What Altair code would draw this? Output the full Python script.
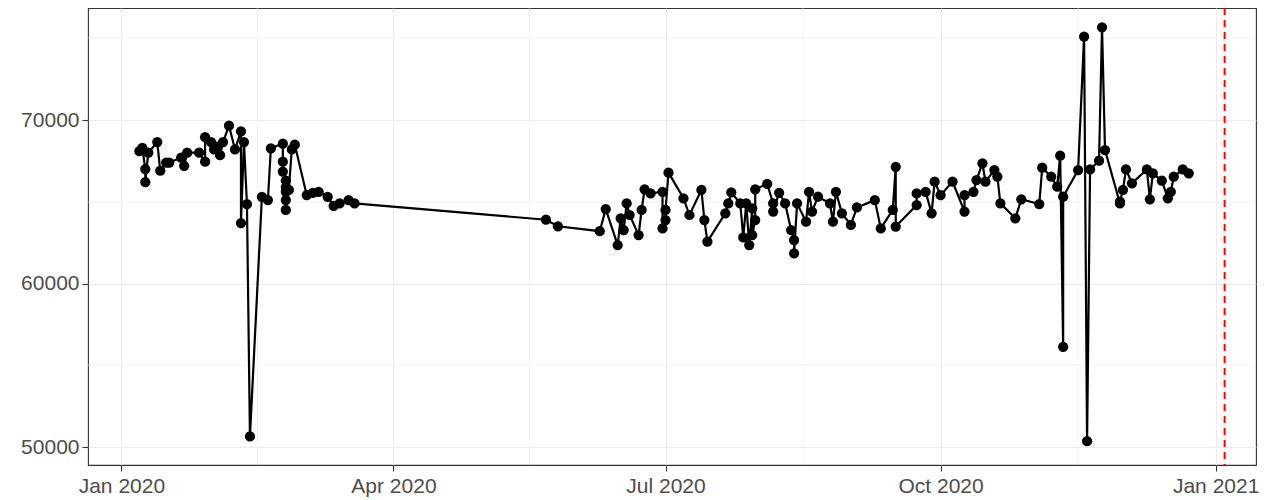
import altair as alt
import pandas as pd

dates = [
    "2020-01-07", "2020-01-08", "2020-01-09", "2020-01-09", "2020-01-10",
    "2020-01-13", "2020-01-14", "2020-01-16", "2020-01-17", "2020-01-21",
    "2020-01-22", "2020-01-23", "2020-01-27", "2020-01-29", "2020-01-29",
    "2020-01-31", "2020-02-01", "2020-02-02", "2020-02-03", "2020-02-04",
    "2020-02-06", "2020-02-08", "2020-02-10", "2020-02-10", "2020-02-11",
    "2020-02-12", "2020-02-13", "2020-02-17", "2020-02-19", "2020-02-20",
    "2020-02-24", "2020-02-24", "2020-02-24", "2020-02-25", "2020-02-25",
    "2020-02-25", "2020-02-25", "2020-02-25", "2020-02-26", "2020-02-27",
    "2020-02-28", "2020-03-03", "2020-03-05", "2020-03-07", "2020-03-10",
    "2020-03-12", "2020-03-14", "2020-03-17", "2020-03-19",
    "2020-05-22", "2020-05-26",
    "2020-06-09", "2020-06-11", "2020-06-15", "2020-06-16", "2020-06-17",
    "2020-06-18", "2020-06-19", "2020-06-22", "2020-06-23", "2020-06-24",
    "2020-06-26", "2020-06-30", "2020-06-30", "2020-07-01", "2020-07-01",
    "2020-07-02", "2020-07-07", "2020-07-09", "2020-07-13", "2020-07-14",
    "2020-07-15", "2020-07-21", "2020-07-22", "2020-07-23", "2020-07-26",
    "2020-07-27", "2020-07-28", "2020-07-29", "2020-07-30", "2020-07-30",
    "2020-07-31", "2020-07-31", "2020-08-04", "2020-08-06", "2020-08-06",
    "2020-08-08", "2020-08-10", "2020-08-12", "2020-08-13", "2020-08-13",
    "2020-08-14", "2020-08-17", "2020-08-18", "2020-08-19", "2020-08-21",
    "2020-08-25", "2020-08-26", "2020-08-27", "2020-08-29", "2020-09-01",
    "2020-09-03", "2020-09-09", "2020-09-11", "2020-09-15", "2020-09-16",
    "2020-09-16", "2020-09-23", "2020-09-23", "2020-09-26", "2020-09-28",
    "2020-09-29", "2020-10-01", "2020-10-05", "2020-10-09", "2020-10-09",
    "2020-10-12", "2020-10-13", "2020-10-15", "2020-10-16", "2020-10-19",
    "2020-10-20", "2020-10-21", "2020-10-26", "2020-10-28", "2020-11-03",
    "2020-11-04", "2020-11-07", "2020-11-09", "2020-11-10", "2020-11-11",
    "2020-11-11", "2020-11-16", "2020-11-18", "2020-11-19", "2020-11-20",
    "2020-11-23", "2020-11-24", "2020-11-25", "2020-11-30", "2020-11-30",
    "2020-12-01", "2020-12-02", "2020-12-04", "2020-12-09", "2020-12-10",
    "2020-12-11", "2020-12-14", "2020-12-16", "2020-12-17", "2020-12-18",
    "2020-12-21", "2020-12-23",
]
values = [
    68100, 68300, 67000, 66200, 68000,
    68650, 66900, 67400, 67400, 67700,
    67200, 68000, 68000, 67450, 68950,
    68650, 68200, 68370, 67850, 68650,
    69650, 68200, 69300, 63700, 68650,
    64850, 50650, 65300, 65100, 68270,
    68550, 67450, 66850, 66300, 65900,
    65100, 64500, 65610, 65720, 68200,
    68500, 65400, 65550, 65600, 65300,
    64750, 64900, 65100, 64900,
    63900, 63500,
    63200, 64550, 62350, 63990, 63270,
    64900, 64190, 62960, 64500, 65760,
    65510, 65610, 63370, 63880, 64500,
    66780, 65210, 64190, 65720, 63880,
    62560, 64290, 64900, 65570, 64900,
    62820, 64900, 62350, 64600, 62960,
    63880, 65760, 66090, 64900, 64400,
    65550, 64900, 63270, 62660, 61850,
    64900, 63780, 65610, 64400, 65310,
    64900, 63780, 65610, 64290, 63580,
    64650, 65100, 63370, 64500, 67140,
    63480, 64800, 65510, 65610, 64290,
    66230, 65400, 66230, 64400, 65400,
    65610, 66330, 67350, 66230, 66940,
    66530, 64900, 63990, 65150, 64860,
    67080, 66530, 65920, 67820, 56130,
    65310, 66940, 75100, 50360, 66980,
    67510, 75670, 68160, 64900, 65010,
    65720, 66980, 66130, 66980, 65150,
    66740, 66290, 65210, 65610, 66530,
    66980, 66740,
]

major_x = ["2020-01-01", "2020-04-01", "2020-07-01", "2020-10-01", "2021-01-01"]
minor_x = ["2020-02-15T12:00:00Z", "2020-05-16T12:00:00Z", "2020-08-16T00:00:00Z", "2020-11-16T00:00:00Z"]
major_y = [50000, 60000, 70000]
minor_y = [55000, 65000, 75000]
vline_date = ["2021-01-04"]

df = pd.DataFrame({"date": dates, "value": values, "idx": list(range(len(dates)))})
df_minor_x = pd.DataFrame({"date": minor_x})
df_minor_y = pd.DataFrame({"value": minor_y})
df_vline = pd.DataFrame({"date": vline_date})

x_scale = alt.Scale(
    type="utc",
    domain=[
        alt.DateTime(year=2019, month=12, date=20, hours=20, utc=True),
        alt.DateTime(year=2021, month=1, date=14, hours=12, utc=True),
    ],
)
y_scale = alt.Scale(domain=[48900, 76850], nice=False, zero=False)

x_axis = alt.Axis(
    values=[alt.DateTime(year=int(d[:4]), month=int(d[5:7]), date=int(d[8:10]), utc=True) for d in major_x],
    format="%b %Y",
    title=None,
    grid=True,
    labelPadding=4,
)
y_axis = alt.Axis(values=major_y, title=None, grid=True, format="d", labelPadding=3)

grid_color = "#EBEBEB"

minor_xr = alt.Chart(df_minor_x).mark_rule(color=grid_color, strokeWidth=0.6).encode(
    x=alt.X("date:T", scale=x_scale, axis=x_axis)
)
minor_yr = alt.Chart(df_minor_y).mark_rule(color=grid_color, strokeWidth=0.6).encode(
    y=alt.Y("value:Q", scale=y_scale, axis=y_axis)
)

base = alt.Chart(df).encode(
    x=alt.X("date:T", scale=x_scale, axis=x_axis),
    y=alt.Y("value:Q", scale=y_scale, axis=y_axis),
    order=alt.Order("idx:Q"),
)
line = base.mark_line(color="black", strokeWidth=2.2)
pts = base.mark_circle(color="black", opacity=1, size=105)

vline = alt.Chart(df_vline).mark_rule(color="#FF0000", strokeWidth=2, strokeDash=[7, 5]).encode(
    x=alt.X("date:T", scale=x_scale, axis=x_axis)
)

chart = (
    alt.layer(minor_xr, minor_yr, line, pts, vline)
    .properties(
        width=1168,
        height=457,
        background="white",
        autosize=alt.AutoSizeParams(type="none"),
        padding={"left": 80, "top": 0, "right": 4, "bottom": 34},
    )
    .configure_view(stroke="#333333", strokeWidth=1.1)
    .configure_axis(
        labelFont="Liberation Sans",
        labelFontSize=21,
        labelColor="#4D4D4D",
        tickColor="#333333",
        tickSize=6,
        tickWidth=1.1,
        domain=False,
        gridColor=grid_color,
        gridWidth=1.1,
    )
)

chart.save("out.html", embed_options={"renderer": "svg", "actions": False})
